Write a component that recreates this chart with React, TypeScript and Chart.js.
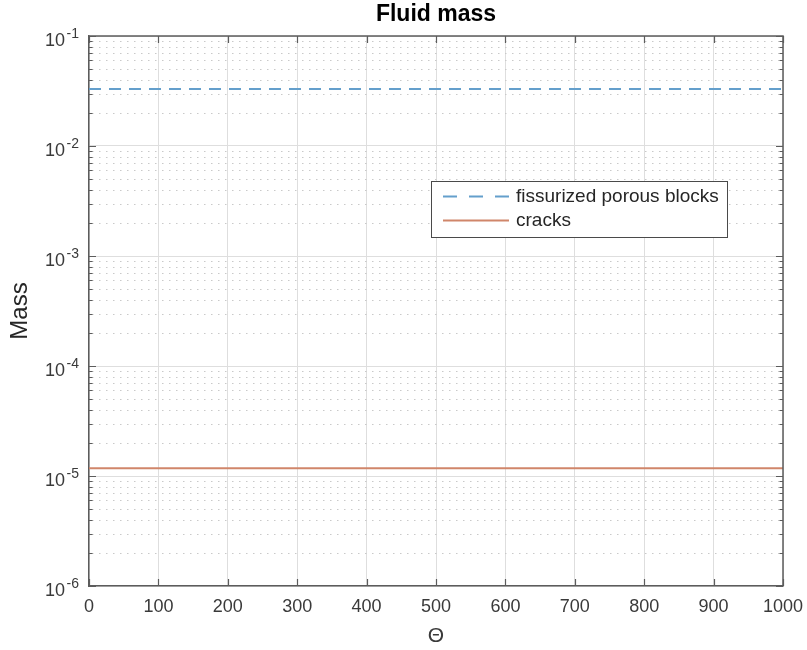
import React, { useEffect, useRef } from 'react';
import { Chart, registerables } from 'chart.js';

Chart.register(...registerables);

// ---- data ----
const theta = [0, 100, 200, 300, 400, 500, 600, 700, 800, 900, 1000];
const blocksMass = [0.033, 0.033, 0.033, 0.033, 0.033, 0.033, 0.033, 0.033, 0.033, 0.033, 0.033];
const cracksMass = [1.175e-5, 1.175e-5, 1.175e-5, 1.175e-5, 1.175e-5, 1.175e-5, 1.175e-5, 1.175e-5, 1.175e-5, 1.175e-5, 1.175e-5];
const seriesLabels = ['fissurized porous blocks', 'cracks'];
const xTickValues = [0, 100, 200, 300, 400, 500, 600, 700, 800, 900, 1000];
const yDecadeExponents = [-6, -5, -4, -3, -2, -1];
const yMinorMultipliers = [1, 2, 3, 4, 5, 6, 7, 8, 9];
const chartTitle = 'Fluid mass';
const xAxisTitle = 'Θ';
const yAxisTitle = 'Mass';

// ---- styles ----
const FONT = '"Liberation Sans", Arial, Helvetica, sans-serif';
const AXIS_COLOR = '#5c5c5c';
const TEXT_COLOR = '#3a3a3a';
const GRID_COLOR = '#dedede';
const MINOR_GRID_COLOR = '#c9c9c9';
const BLUE = '#649fcc';
const ORANGE = '#d0866a';

const isMajor = (v: number) => {
  if (!(v > 0)) return false;
  const l = Math.log10(v);
  return Math.abs(l - Math.round(l)) < 1e-9;
};

const yTickValues: number[] = [];
yDecadeExponents.forEach((e, i) => {
  if (i === yDecadeExponents.length - 1) {
    yTickValues.push(Math.pow(10, e));
  } else {
    yMinorMultipliers.forEach((m) => yTickValues.push(m * Math.pow(10, e)));
  }
});

const matlabPlugin = {
  id: 'matlabAxes',
  beforeDatasetsDraw(chart: any) {
    const { ctx, chartArea: a, scales } = chart;
    const y = scales.y;
    ctx.save();
    ctx.strokeStyle = MINOR_GRID_COLOR;
    ctx.lineWidth = 1;
    ctx.setLineDash([1.5, 5.5]);
    y.ticks.forEach((t: any) => {
      if (isMajor(t.value)) return;
      const py = Math.round(y.getPixelForValue(t.value)) + 0.5;
      ctx.beginPath();
      ctx.moveTo(a.left + 3, py);
      ctx.lineTo(a.right, py);
      ctx.stroke();
    });
    ctx.restore();
  },
  afterDatasetsDraw(chart: any) {
    const { ctx, chartArea: a, scales } = chart;
    const x = scales.x;
    const y = scales.y;
    ctx.save();
    ctx.setLineDash([]);
    ctx.strokeStyle = AXIS_COLOR;
    // box top and right
    ctx.lineWidth = 1.5;
    ctx.beginPath();
    ctx.moveTo(a.left, a.top);
    ctx.lineTo(a.right, a.top);
    ctx.lineTo(a.right, a.bottom);
    ctx.stroke();
    // y ticks (inward, both sides)
    ctx.lineWidth = 1.2;
    y.ticks.forEach((t: any) => {
      const py = Math.round(y.getPixelForValue(t.value)) + 0.5;
      const len = isMajor(t.value) ? 7 : 3.5;
      ctx.beginPath();
      ctx.moveTo(a.left, py);
      ctx.lineTo(a.left + len, py);
      ctx.moveTo(a.right, py);
      ctx.lineTo(a.right - len, py);
      ctx.stroke();
    });
    // x ticks (inward, top and bottom)
    xTickValues.forEach((v) => {
      const px = Math.round(x.getPixelForValue(v)) + 0.5;
      ctx.beginPath();
      ctx.moveTo(px, a.bottom);
      ctx.lineTo(px, a.bottom - 7);
      ctx.moveTo(px, a.top);
      ctx.lineTo(px, a.top + 7);
      ctx.stroke();
    });
    // y tick labels 10^k
    ctx.fillStyle = TEXT_COLOR;
    ctx.textBaseline = 'middle';
    yDecadeExponents.forEach((e) => {
      const py = y.getPixelForValue(Math.pow(10, e));
      const expText = String(e);
      ctx.font = `14px ${FONT}`;
      const expW = ctx.measureText(expText).width;
      const right = a.left - 10;
      ctx.textAlign = 'left';
      ctx.fillText(expText, right - expW, py - 1.5);
      ctx.font = `18px ${FONT}`;
      ctx.textAlign = 'right';
      ctx.fillText('10', right - expW - 1.5, py + 5.5);
    });
    // title
    ctx.fillStyle = '#000000';
    ctx.font = `bold 23px ${FONT}`;
    ctx.textAlign = 'center';
    ctx.textBaseline = 'middle';
    ctx.fillText(chartTitle, (a.left + a.right) / 2, 15);
    // legend
    const lx = 431.5, ly = 181.5, lw = 296, lh = 56;
    ctx.fillStyle = '#ffffff';
    ctx.fillRect(lx, ly, lw, lh);
    ctx.strokeStyle = '#4a4a4a';
    ctx.lineWidth = 1;
    ctx.strokeRect(lx, ly, lw, lh);
    const rows = [196.5, 220.5];
    chart.data.datasets.forEach((ds: any, i: number) => {
      const ry = rows[i];
      ctx.strokeStyle = ds.borderColor;
      ctx.lineWidth = ds.borderWidth;
      ctx.setLineDash(ds.borderDash && ds.borderDash.length ? [14, 12] : []);
      ctx.beginPath();
      ctx.moveTo(443, ry);
      ctx.lineTo(509, ry);
      ctx.stroke();
      ctx.setLineDash([]);
      ctx.fillStyle = '#262626';
      ctx.font = `19px ${FONT}`;
      ctx.textAlign = 'left';
      ctx.textBaseline = 'middle';
      ctx.fillText(ds.label, 516, ry);
    });
    ctx.restore();
  },
};

export default function App() {
  const canvasRef = useRef<HTMLCanvasElement | null>(null);

  useEffect(() => {
    const canvas = canvasRef.current;
    if (!canvas) return;
    const chart = new Chart(canvas, {
      type: 'line',
      data: {
        datasets: [
          {
            label: seriesLabels[0],
            data: theta.map((t, i) => ({ x: t, y: blocksMass[i] })),
            borderColor: BLUE,
            backgroundColor: BLUE,
            borderWidth: 2,
            borderDash: [12, 8],
            pointRadius: 0,
            fill: false,
          },
          {
            label: seriesLabels[1],
            data: theta.map((t, i) => ({ x: t, y: cracksMass[i] })),
            borderColor: ORANGE,
            backgroundColor: ORANGE,
            borderWidth: 2,
            pointRadius: 0,
            fill: false,
          },
        ],
      },
      options: {
        responsive: false,
        animation: false,
        devicePixelRatio: 1,
        layout: { padding: { left: 0, right: 24, top: 36, bottom: 0 } },
        plugins: {
          legend: { display: false },
          tooltip: { enabled: false },
          title: { display: false },
        },
        scales: {
          x: {
            type: 'linear',
            min: 0,
            max: 1000,
            afterBuildTicks: (scale: any) => {
              scale.ticks = xTickValues.map((v) => ({ value: v }));
            },
            afterFit: (scale: any) => {
              scale.height = 64;
              scale.paddingLeft = 0;
              scale.paddingRight = 0;
            },
            ticks: {
              color: TEXT_COLOR,
              font: { family: FONT, size: 18 },
              padding: 10,
              maxRotation: 0,
              autoSkip: false,
              callback: (v: any) => String(v),
            },
            grid: { color: GRID_COLOR, lineWidth: 1, drawTicks: false },
            border: { display: true, color: AXIS_COLOR, width: 1.5 },
            title: {
              display: true,
              text: xAxisTitle,
              color: TEXT_COLOR,
              font: { family: FONT, size: 21 },
              padding: { top: 0, bottom: 1 },
            },
          },
          y: {
            type: 'logarithmic',
            min: 1e-6,
            max: 1e-1,
            afterBuildTicks: (scale: any) => {
              scale.ticks = yTickValues.map((v) => ({ value: v, major: isMajor(v) }));
            },
            afterFit: (scale: any) => {
              scale.width = 89;
              scale.paddingTop = 0;
              scale.paddingBottom = 0;
            },
            ticks: {
              autoSkip: false,
              callback: () => '',
            },
            grid: {
              drawTicks: false,
              lineWidth: 1,
              color: (c: any) => (c.tick && isMajor(c.tick.value) ? GRID_COLOR : 'rgba(0,0,0,0)'),
            },
            border: { display: true, color: AXIS_COLOR, width: 1.5 },
            title: {
              display: true,
              text: yAxisTitle,
              color: '#262626',
              font: { family: FONT, size: 24 },
              padding: { top: 6, bottom: 0 },
            },
          },
        },
      },
      plugins: [matlabPlugin],
    } as any);
    return () => chart.destroy();
  }, []);

  return (
    <div style={{ position: 'absolute', left: 0, top: 0, width: 807, height: 650, background: '#ffffff' }}>
      <canvas ref={canvasRef} width={807} height={650} />
    </div>
  );
}
